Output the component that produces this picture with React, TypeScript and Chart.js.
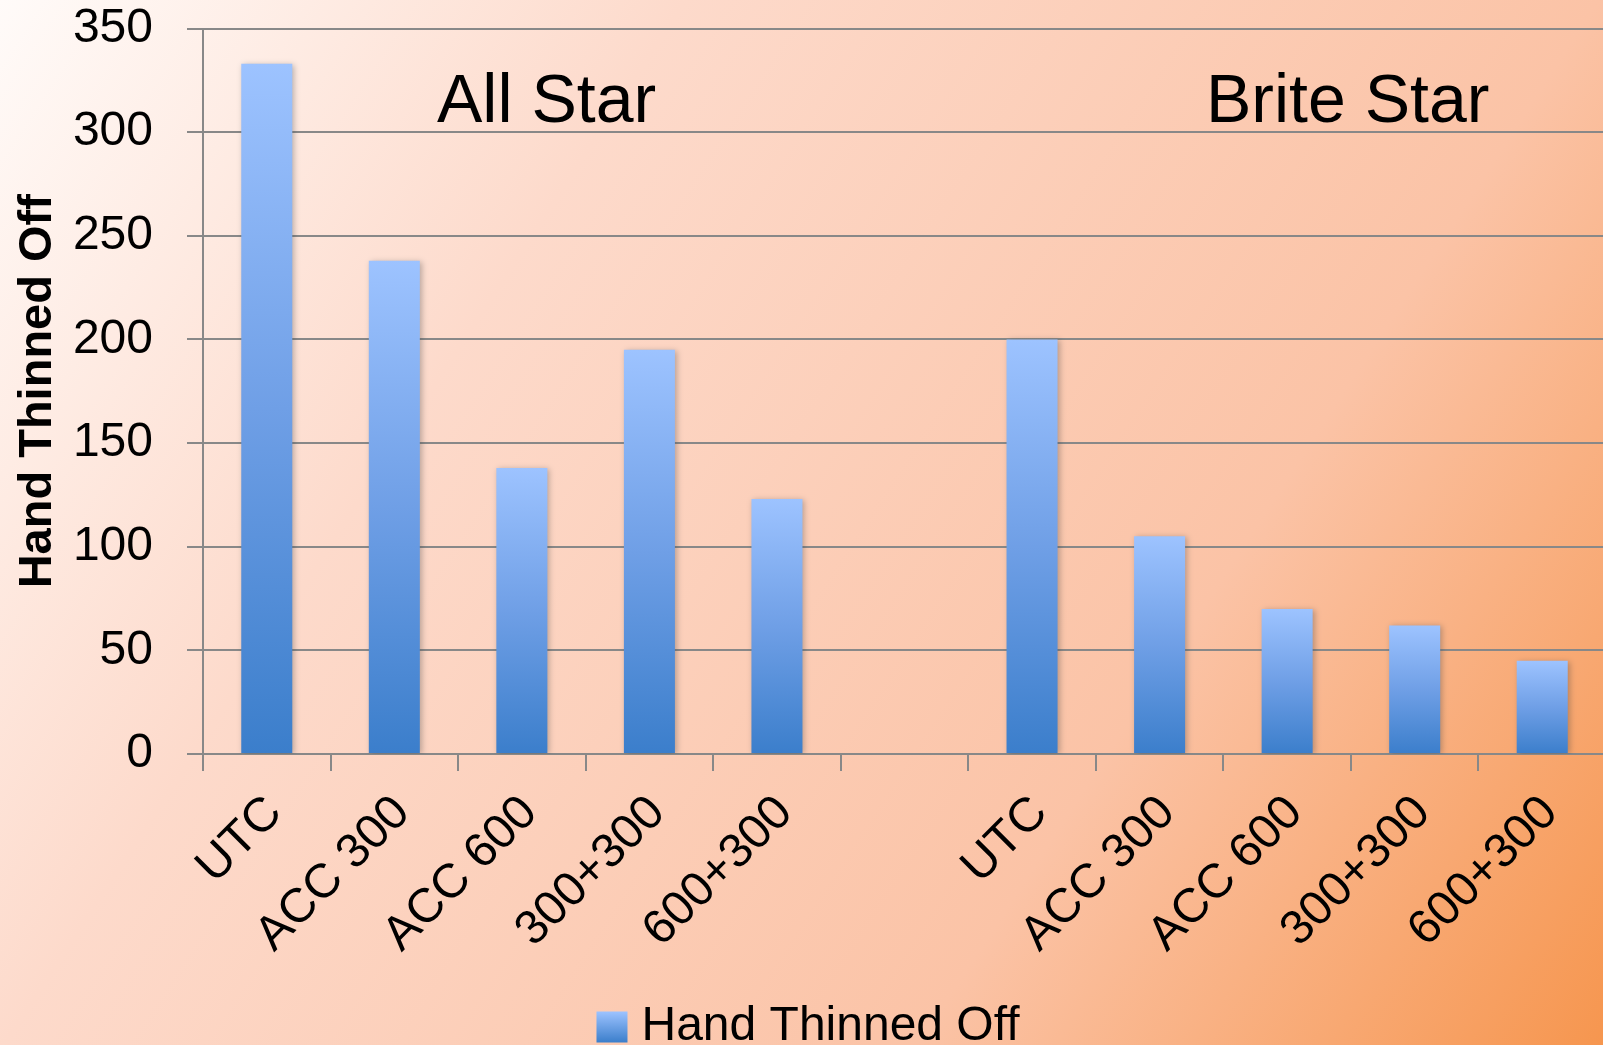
import React, { useEffect, useRef } from 'react';
import { Chart, registerables } from 'chart.js';

Chart.register(...registerables);

// ---- data ----
const categories = ['UTC', 'ACC 300', 'ACC 600', '300+300', '600+300', '', 'UTC', 'ACC 300', 'ACC 600', '300+300', '600+300'];
const handThinnedOff = [333, 238, 138, 195, 123, null, 200, 105, 70, 62, 45];
const seriesName = 'Hand Thinned Off';
const yAxisTitle = 'Hand Thinned Off';
const yMin = 0;
const yMax = 350;
const yStep = 50;
const groupLabels = ['All Star', 'Brite Star'];

const FONT = "'Liberation Sans', Arial, sans-serif";
const GRID = '#888888';
const BAR_TOP = '#9dc3ff';
const BAR_MID = '#6f9fe6';
const BAR_BOT = '#3b7ecb';

const VIEW_W = 1603;
const VIEW_H = 1045;
const W = 1606;
const H = 1061;

const SWATCH = 31;

const backgroundPlugin = {
  id: 'slideBackground',
  beforeDraw(chart: any) {
    const { ctx } = chart;
    const g = ctx.createLinearGradient(0, 0, VIEW_W, VIEW_H);
    g.addColorStop(0, '#fffbf9');
    g.addColorStop(0.3, '#fddacb');
    g.addColorStop(0.7, '#fbc3a6');
    g.addColorStop(1, '#f6964f');
    ctx.save();
    ctx.fillStyle = g;
    ctx.fillRect(0, 0, chart.width, chart.height);
    ctx.restore();

    // hide the default legend swatch; drawn later with a gradient
    const legend = chart.legend;
    if (legend && legend.legendItems && legend.legendItems[0]) {
      legend.legendItems[0].fillStyle = 'rgba(0,0,0,0)';
      legend.legendItems[0].strokeStyle = 'rgba(0,0,0,0)';
      legend.legendItems[0].lineWidth = 0;
    }
  },
  afterDraw(chart: any) {
    const { ctx } = chart;
    const legend = chart.legend;
    if (!legend || !legend.legendHitBoxes || !legend.legendHitBoxes[0]) return;
    const hb = legend.legendHitBoxes[0];
    const fontSize = 48;
    const top = hb.top + Math.max((fontSize - SWATCH) / 2, 0);
    const left = hb.left + 10;
    const lg = ctx.createLinearGradient(0, top, 0, top + SWATCH);
    lg.addColorStop(0, BAR_TOP);
    lg.addColorStop(1, BAR_BOT);
    ctx.save();
    ctx.fillStyle = lg;
    ctx.fillRect(left, top, SWATCH, SWATCH);
    ctx.restore();
  },
};

const barShadowPlugin = {
  id: 'barShadow',
  beforeDatasetsDraw(chart: any) {
    const { ctx } = chart;
    ctx.save();
    ctx.shadowColor = 'rgba(60,60,60,0.35)';
    ctx.shadowBlur = 6;
    ctx.shadowOffsetX = 2;
    ctx.shadowOffsetY = 1;
  },
  afterDatasetsDraw(chart: any) {
    chart.ctx.restore();
  },
};

const groupLabelPlugin = {
  id: 'groupLabels',
  afterDraw(chart: any, _args: any, opts: any) {
    const { ctx, chartArea } = chart;
    ctx.save();
    ctx.fillStyle = '#000';
    ctx.font = `68px ${FONT}`;
    ctx.textAlign = 'left';
    ctx.textBaseline = 'alphabetic';
    (opts.items || []).forEach((it: any) => {
      ctx.fillText(it.text, chartArea.left + it.dx, chartArea.top + it.dy);
    });
    ctx.restore();
  },
};

function barGradient(c: any) {
  const chart = c.chart;
  const y = chart.scales && chart.scales.y;
  if (!y || c.type !== 'data' || c.raw == null) return BAR_MID;
  const top = y.getPixelForValue(c.raw);
  const base = y.getPixelForValue(0);
  if (!isFinite(top) || !isFinite(base) || top === base) return BAR_MID;
  const g = chart.ctx.createLinearGradient(0, top, 0, base);
  g.addColorStop(0, BAR_TOP);
  g.addColorStop(0.5, BAR_MID);
  g.addColorStop(1, BAR_BOT);
  return g;
}

export default function App() {
  const ref = useRef<HTMLCanvasElement | null>(null);

  useEffect(() => {
    document.body.style.margin = '0';
    const canvas = ref.current;
    if (!canvas) return;
    Chart.defaults.font.family = FONT;
    const chart = new Chart(canvas, {
      type: 'bar',
      data: {
        labels: categories,
        datasets: [
          {
            label: seriesName,
            data: handThinnedOff,
            backgroundColor: barGradient,
            borderWidth: 0,
            categoryPercentage: 1,
            barPercentage: 0.4,
          },
        ],
      },
      options: {
        responsive: false,
        animation: false,
        devicePixelRatio: 1,
        layout: { padding: { top: 28.5, right: 0, bottom: 0, left: 0 } },
        plugins: {
          legend: {
            display: true,
            position: 'bottom',
            labels: {
              color: '#000',
              font: { size: 48, family: FONT },
              boxWidth: SWATCH,
              boxHeight: SWATCH,
              padding: 10,
            },
          },
          tooltip: { enabled: false },
          groupLabels: {
            items: [
              { text: groupLabels[0], dx: 234, dy: 93 },
              { text: groupLabels[1], dx: 1003, dy: 93 },
            ],
          },
        } as any,
        scales: {
          x: {
            grid: {
              display: true,
              drawOnChartArea: false,
              drawTicks: true,
              tickLength: 17,
              color: GRID,
              lineWidth: 2,
              offset: true,
            },
            border: { display: true, color: GRID, width: 2 },
            ticks: {
              autoSkip: false,
              maxRotation: 45,
              minRotation: 45,
              padding: 14,
              labelOffset: 8,
              color: '#000',
              font: { size: 48, family: FONT },
            },
            afterFit: (s: any) => {
              s.height = 239;
              s.paddingLeft = 0;
              s.paddingRight = 0;
            },
          },
          y: {
            min: yMin,
            max: yMax,
            ticks: {
              stepSize: yStep,
              padding: 34,
              color: '#000',
              font: { size: 48, family: FONT },
            },
            grid: { color: GRID, lineWidth: 2, tickLength: 16, drawTicks: true },
            border: { display: true, color: GRID, width: 2 },
            title: {
              display: true,
              text: yAxisTitle,
              color: '#000',
              font: { size: 47, weight: 'bold', family: FONT },
              padding: { top: 10, bottom: 10 },
            },
            afterFit: (s: any) => {
              s.width = 203;
              s.paddingTop = 0;
              s.paddingBottom = 0;
            },
          },
        },
      } as any,
      plugins: [backgroundPlugin, barShadowPlugin, groupLabelPlugin],
    });
    return () => chart.destroy();
  }, []);

  return (
    <div style={{ position: 'relative', width: VIEW_W, height: VIEW_H, overflow: 'hidden' }}>
      <canvas ref={ref} width={W} height={H} style={{ display: 'block', width: W, height: H }} />
    </div>
  );
}
